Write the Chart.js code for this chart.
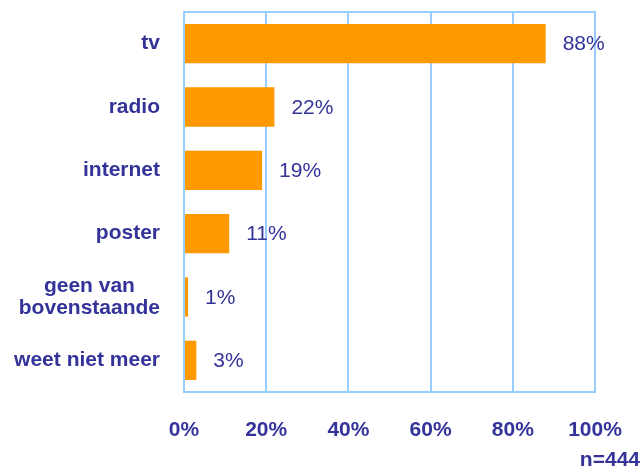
<!DOCTYPE html>
<html>
<head>
<meta charset="utf-8">
<script src="https://cdn.jsdelivr.net/npm/chart.js@4"></script>
<style>
  body { margin: 0; background: #fff; }
  #wrap { width: 643px; height: 470px; }
</style>
</head>
<body>
<div id="wrap"><canvas id="myChart" width="643" height="470"></canvas></div>
<script>
const categories = [['tv'], ['radio'], ['internet'], ['poster'], ['geen van', 'bovenstaande'], ['weet niet meer']];
const values = [88, 22, 19, 11, 1, 3];
const xTicks = [0, 20, 40, 60, 80, 100];
const sampleNote = 'n=444';

const textColor = '#333399';
const font = 'Arial, "Liberation Sans", sans-serif';

// labels next to the bars, category names, plot box and n=
const extras = {
  id: 'extras',
  afterDatasetsDraw(chart) {
    const c = chart.ctx;
    const area = chart.chartArea;
    const y = chart.scales.y;
    c.save();
    c.strokeStyle = '#99ccff';
    c.lineWidth = 2;
    c.strokeRect(area.left, area.top, area.right - area.left, area.bottom - area.top);

    c.fillStyle = textColor;
    c.textBaseline = 'middle';
    c.font = '21px ' + font;
    c.textAlign = 'left';
    chart.getDatasetMeta(0).data.forEach((bar, i) => {
      c.fillText(values[i] + '%', bar.x + 17, bar.y + 1);
    });

    c.font = 'bold 21px ' + font;
    c.textAlign = 'center';
    categories.forEach((lines, i) => {
      const cy = y.getPixelForTick(i);
      const w = Math.max(...lines.map(l => c.measureText(l).width));
      const cx = 160 - w / 2;
      const lh = 22;
      lines.forEach((l, j) => {
        c.fillText(l, cx, cy + (j - (lines.length - 1) / 2) * lh);
      });
    });

    c.textAlign = 'right';
    c.fillText(sampleNote, 640, 460);
    c.restore();
  }
};

new Chart(document.getElementById('myChart'), {
  type: 'bar',
  data: {
    labels: categories,
    datasets: [{
      data: values,
      backgroundColor: '#ff9900',
      borderWidth: 0,
      barPercentage: 0.62,
      categoryPercentage: 1
    }]
  },
  options: {
    indexAxis: 'y',
    responsive: false,
    animation: false,
    layout: { padding: { top: 12, right: 48, left: 0, bottom: 0 } },
    scales: {
      x: {
        min: 0,
        max: 100,
        afterBuildTicks: s => { s.ticks = xTicks.map(v => ({ value: v })); },
        grid: { color: '#99ccff', lineWidth: 2, drawTicks: false },
        border: { display: false },
        ticks: {
          color: textColor,
          font: { family: font, size: 21, weight: 'bold' },
          padding: 26,
          maxRotation: 0,
          callback: v => v + '%'
        },
        afterFit: s => { s.height = 78; s.paddingLeft = 0; s.paddingRight = 0; }
      },
      y: {
        grid: { display: false },
        border: { display: false },
        ticks: { display: false },
        afterFit: s => { s.width = 184; }
      }
    },
    plugins: {
      legend: { display: false },
      tooltip: { enabled: false }
    }
  },
  plugins: [extras]
});
</script>
</body>
</html>
